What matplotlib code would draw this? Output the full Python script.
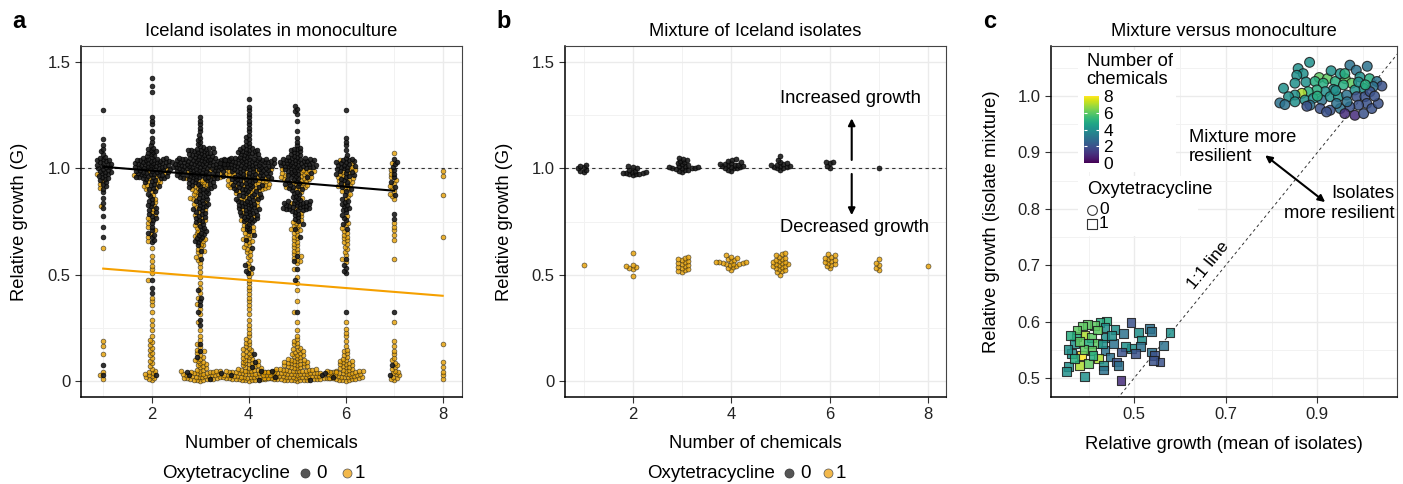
import numpy as np
import matplotlib
matplotlib.use('Agg')
import matplotlib.pyplot as plt
from matplotlib.patches import Rectangle
from matplotlib.lines import Line2D
from matplotlib.colors import Normalize
from matplotlib.cm import ScalarMappable

plt.rcParams['font.family'] = ['Liberation Sans', 'DejaVu Sans']

W, H = 1403, 484
FS = 13.2

# ---- panel a: monoculture, counts per 0.05 bin of relative growth (bin 0 = 0-0.05) ----
BIN = 0.05
chem = [1, 2, 3, 4, 5, 6, 7, 8]
mono_g0 = [
    [1, 1, 0, 0, 0, 0, 0, 0, 0, 0, 0, 0, 0, 1, 1, 1, 2, 2, 5, 12, 14, 4, 2, 0, 0, 1, 0, 0, 0],
    [1, 0, 0, 0, 0, 0, 0, 0, 2, 1, 0, 0, 0, 5, 3, 5, 6, 4, 8, 28, 35, 10, 3, 1, 3, 0, 0, 2, 1],
    [3, 0, 2, 1, 0, 2, 1, 3, 1, 0, 0, 1, 2, 8, 6, 8, 10, 10, 15, 40, 55, 25, 5, 3, 3, 0, 0, 0, 0],
    [5, 2, 1, 0, 0, 0, 0, 0, 0, 0, 4, 0, 1, 2, 6, 15, 18, 15, 20, 30, 50, 20, 6, 3, 3, 3, 1, 0, 0],
    [5, 0, 0, 0, 0, 0, 1, 0, 0, 1, 1, 2, 0, 1, 2, 6, 25, 8, 10, 15, 35, 12, 3, 1, 1, 4, 0, 0, 0],
    [0, 0, 0, 0, 0, 0, 1, 0, 0, 0, 4, 1, 0, 0, 2, 4, 8, 3, 6, 10, 15, 2, 3, 0, 0, 1, 0, 0, 0],
    [1, 1, 0, 0, 0, 0, 1, 0, 0, 0, 0, 0, 0, 0, 0, 2, 0, 1, 2, 3, 4, 0, 0, 0, 0, 0, 0, 0, 0],
    [0] * 29,
]
mono_g1 = [
    [3, 0, 1, 2, 0, 0, 0, 0, 0, 0, 0, 0, 1, 0, 0, 0, 1, 0, 3, 1, 0, 0],
    [10, 4, 4, 4, 2, 2, 1, 3, 0, 1, 3, 2, 1, 3, 3, 4, 3, 3, 8, 6, 0, 0],
    [35, 10, 6, 3, 2, 1, 2, 2, 2, 2, 2, 4, 6, 4, 4, 4, 4, 6, 10, 8, 0, 0],
    [50, 15, 10, 6, 3, 2, 2, 3, 3, 3, 3, 4, 6, 8, 5, 3, 3, 10, 20, 12, 0, 0],
    [70, 25, 12, 6, 2, 1, 1, 1, 1, 2, 1, 6, 6, 6, 8, 3, 2, 2, 12, 15, 0, 0],
    [35, 14, 6, 2, 3, 1, 0, 0, 0, 0, 0, 3, 4, 6, 4, 1, 0, 4, 8, 8, 3, 0],
    [9, 5, 3, 2, 0, 1, 0, 0, 0, 0, 0, 1, 0, 2, 3, 0, 0, 4, 4, 3, 1, 1],
    [3, 2, 0, 1, 0, 0, 0, 0, 0, 0, 0, 0, 0, 1, 0, 0, 0, 1, 0, 2, 0, 0],
]
fit_x_g0 = [1, 7]
fit_y_g0 = [1.008, 0.895]
fit_x_g1 = [1, 8]
fit_y_g1 = [0.528, 0.400]

# ---- panel b: mixture values ----
mix_g0 = [
    [0.985, 0.99, 0.995, 1.0, 1.005, 1.01, 1.015],
    [0.97, 0.972, 0.975, 0.975, 0.978, 0.98, 0.98, 0.982, 0.985, 0.99, 0.995, 1.0, 1.005, 1.01],
    [0.985, 0.99, 0.992, 0.995, 0.997, 1.0, 1.0, 1.0, 1.002, 1.005, 1.005, 1.01, 1.012,
     1.015, 1.02, 1.025, 1.03, 1.035, 1.04, 1.045, 1.05],
    [0.99, 0.995, 1.0, 1.0, 1.003, 1.005, 1.008, 1.01, 1.012, 1.015, 1.015, 1.018, 1.02,
     1.022, 1.025, 1.03, 1.035, 1.04, 1.045],
    [0.995, 1.0, 1.003, 1.005, 1.008, 1.01, 1.012, 1.015, 1.018, 1.02, 1.025, 1.03, 1.04, 1.06],
    [1.0, 1.01, 1.028, 1.03, 1.032],
    [1.0],
    [],
]
mix_g1 = [
    [0.545],
    [0.495, 0.525, 0.53, 0.535, 0.54, 0.545, 0.60],
    [0.51, 0.515, 0.52, 0.525, 0.53, 0.535, 0.54, 0.545, 0.55, 0.555, 0.56, 0.565, 0.57,
     0.575, 0.58, 0.585],
    [0.52, 0.53, 0.535, 0.54, 0.545, 0.55, 0.55, 0.552, 0.555, 0.555, 0.557, 0.56, 0.56,
     0.565, 0.57, 0.575, 0.58, 0.585, 0.59],
    [0.50, 0.51, 0.515, 0.52, 0.525, 0.53, 0.535, 0.54, 0.54, 0.545, 0.55, 0.55, 0.555,
     0.56, 0.56, 0.565, 0.57, 0.575, 0.58, 0.585, 0.59, 0.595, 0.60],
    [0.53, 0.54, 0.545, 0.55, 0.555, 0.56, 0.565, 0.57, 0.575, 0.58, 0.585, 0.59, 0.595],
    [0.52, 0.53, 0.545, 0.555, 0.575],
    [0.54],
]

# ---- panel c: mixture vs mean of isolates ----
c0_x = [0.883, 0.971, 1.009, 0.985, 0.858, 0.869, 0.855, 0.875, 0.851, 0.826, 0.904, 0.922,
        0.895, 0.913, 0.939, 0.961, 0.975, 0.993, 1.014, 1.030, 1.041, 1.022, 1.001, 0.982,
        0.957, 0.935, 0.917, 0.899, 0.880, 0.866, 0.851, 0.837, 0.818, 0.829, 0.851, 0.873,
        0.891, 0.910, 0.928, 0.946, 0.964, 0.986, 1.004, 1.015, 1.008, 0.990, 0.971, 0.950,
        0.928, 0.906, 0.884, 0.920, 0.960, 0.982, 1.001, 1.019, 1.033, 0.942, 0.877, 0.950,
        0.930, 0.990, 1.005, 0.965, 0.900, 0.940, 1.025, 0.960]
c0_y = [1.060, 1.055, 1.053, 1.046, 1.049, 1.040, 1.037, 1.025, 1.023, 1.014, 1.033, 1.031,
        1.026, 1.023, 1.026, 1.031, 1.023, 1.034, 1.031, 1.026, 1.018, 1.017, 1.014, 1.011,
        1.020, 1.012, 1.008, 1.011, 1.008, 1.005, 1.002, 0.999, 0.988, 0.985, 0.990, 0.993,
        0.996, 0.993, 0.999, 0.999, 1.002, 0.999, 0.999, 1.008, 0.987, 0.984, 0.981, 0.978,
        0.975, 0.978, 0.984, 0.972, 0.969, 0.966, 0.969, 0.978, 0.987, 0.987, 0.982, 1.040,
        1.045, 1.025, 1.020, 0.990, 1.000, 1.010, 1.000, 1.040]
c0_n = [4, 3, 3, 3, 4, 4, 4, 4, 4, 4, 6, 6, 5, 5, 5, 6, 6, 4, 5, 3, 2, 3, 4, 4,
        5, 4, 4, 5, 5, 7, 4, 4, 3, 3, 4, 4, 4, 3, 4, 4, 3, 2, 2, 2, 2, 2, 2, 3,
        2, 2, 3, 2, 1, 1, 2, 2, 2, 3, 2, 4, 4, 4, 5, 3, 5, 4, 2, 5]
c1_x = [0.493, 0.440, 0.425, 0.413, 0.398, 0.386, 0.436, 0.458, 0.476, 0.509, 0.534, 0.538,
        0.578, 0.515, 0.391, 0.374, 0.407, 0.436, 0.454, 0.420, 0.400, 0.370, 0.563, 0.513,
        0.494, 0.481, 0.472, 0.502, 0.436, 0.407, 0.385, 0.363, 0.421, 0.447, 0.461, 0.432,
        0.381, 0.356, 0.538, 0.545, 0.556, 0.542, 0.352, 0.392, 0.432, 0.471, 0.465, 0.370,
        0.400, 0.390, 0.380, 0.410, 0.430, 0.450, 0.355, 0.375, 0.360, 0.420]
c1_y = [0.598, 0.601, 0.598, 0.593, 0.595, 0.592, 0.590, 0.586, 0.579, 0.580, 0.588, 0.582,
        0.580, 0.567, 0.576, 0.573, 0.572, 0.572, 0.561, 0.561, 0.561, 0.561, 0.558, 0.555,
        0.552, 0.555, 0.546, 0.543, 0.549, 0.549, 0.540, 0.543, 0.534, 0.537, 0.528, 0.522,
        0.522, 0.520, 0.546, 0.540, 0.528, 0.531, 0.511, 0.502, 0.514, 0.495, 0.522, 0.534,
        0.525, 0.550, 0.565, 0.540, 0.560, 0.575, 0.550, 0.585, 0.575, 0.585]
c1_n = [2, 5, 5, 6, 6, 6, 4, 4, 3, 4, 3, 3, 4, 4, 7, 5, 6, 4, 3, 6, 5, 4, 3, 3,
        4, 4, 2, 2, 3, 6, 8, 4, 7, 3, 2, 4, 7, 4, 3, 2, 2, 2, 4, 4, 3, 1, 3, 5,
        6, 6, 6, 5, 4, 4, 4, 6, 5, 6]

BLACK = '#1c1c1c'
ORANGE = '#E69F00'


def px_axes(l, t, r, b):
    return fig.add_axes([l / W, 1 - b / H, (r - l) / W, (b - t) / H])


def expand(counts):
    ys = []
    for k, n in enumerate(counts):
        if n:
            ys.extend(k * BIN + (np.arange(n) + 0.5) / n * BIN)
    return np.array(ys)


def swarm(ax, xc, ys, d=3.3):
    ys = np.asarray(ys, dtype=float)
    if len(ys) == 0:
        return ys
    ypx = ax.transData.transform(np.column_stack([np.full(len(ys), xc), ys]))[:, 1]
    xs = np.zeros(len(ys))
    done_x, done_y = [], []
    for i in np.argsort(ypx, kind='stable'):
        y = ypx[i]
        dx_arr = np.array(done_x)
        dy_arr = np.array(done_y)
        if len(dy_arr):
            m = np.abs(dy_arr - y) < d
            nx, ny = dx_arr[m], dy_arr[m]
        else:
            nx, ny = dx_arr, dy_arr
        cands = [0.0]
        for a, b in zip(nx, ny):
            w = np.sqrt(d * d - (b - y) ** 2)
            cands += [a - w, a + w]
        cands.sort(key=abs)
        for c in cands:
            if len(nx) == 0 or np.all((c - nx) ** 2 + (y - ny) ** 2 >= d * d - 1e-6):
                xs[i] = c
                break
        done_x.append(xs[i])
        done_y.append(y)
    ppu = ax.transData.transform((1, 0))[0] - ax.transData.transform((0, 0))[0]
    return xc + xs / ppu


def style(ax, xmaj, xmin, ymaj, ymin, xlab, ylab):
    ax.set_xticks(xmaj)
    ax.set_xticks(xmin, minor=True)
    ax.set_yticks(ymaj)
    ax.set_yticks(ymin, minor=True)
    ax.grid(which='major', color='#EBEBEB', lw=1.0)
    ax.grid(which='minor', color='#F2F2F2', lw=0.7)
    ax.set_axisbelow(True)
    ax.tick_params(which='minor', length=0)
    ax.tick_params(which='major', length=4, width=0.8, color='#333333',
                   labelsize=12, labelcolor='#222222', pad=3.5)
    for s in ['top', 'right']:
        ax.spines[s].set_linewidth(0.8)
        ax.spines[s].set_color('#444444')
    for s in ['left', 'bottom']:
        ax.spines[s].set_linewidth(1.1)
        ax.spines[s].set_color('black')
    ax.set_xlabel(xlab, fontsize=FS)
    ax.set_ylabel(ylab, fontsize=FS)


def oxy_legend(x0, xc0, xl0, xc1, xl1):
    y = 1 - 473 / H
    fig.text(x0 / W, y, 'Oxytetracycline', fontsize=13.5, va='center', ha='left')
    fig.add_artist(Line2D([xc0 / W], [y], marker='o', ms=6.5, color='#555555',
                          mec='#333333', mew=0.5, transform=fig.transFigure))
    fig.text(xl0 / W, y, '0', fontsize=13.5, va='center', ha='left')
    fig.add_artist(Line2D([xc1 / W], [y], marker='o', ms=6.5, color='#F2B84B',
                          mec='#555555', mew=0.5, transform=fig.transFigure))
    fig.text(xl1 / W, y, '1', fontsize=13.5, va='center', ha='left')


fig = plt.figure(figsize=(W / 100, H / 100), dpi=100)

# ---------------- panel a ----------------
ax_a = px_axes(81, 46, 462, 397)
ax_a.set_xlim(0.542, 8.398)
ax_a.set_ylim(-0.077, 1.577)
style(ax_a, [2, 4, 6, 8], [1, 3, 5, 7], [0, 0.5, 1.0, 1.5], [0.25, 0.75, 1.25],
      'Number of chemicals', 'Relative growth (G)')
ax_a.set_yticklabels(['0', '0.5', '1.0', '1.5'])
ax_a.axhline(1.0, ls=(0, (3, 3)), lw=0.8, color='#333333', zorder=1)
for xc, g0, g1 in zip(chem, mono_g0, mono_g1):
    y0, y1 = expand(g0), expand(g1)
    xs = swarm(ax_a, xc, np.concatenate([y0, y1]))
    ax_a.scatter(xs[len(y0):], y1, s=12, c=ORANGE, edgecolors='#222222', linewidths=0.45,
                 alpha=0.8, zorder=2)
    ax_a.scatter(xs[:len(y0)], y0, s=12, c=BLACK, edgecolors='black', linewidths=0.45,
                 alpha=0.9, zorder=2.1)
ax_a.plot(fit_x_g0, fit_y_g0, color='black', lw=1.5, zorder=3)
ax_a.plot(fit_x_g1, fit_y_g1, color='#F5A000', lw=1.5, zorder=3)
ax_a.xaxis.set_label_coords(0.5, -0.108)
ax_a.yaxis.set_label_coords(-0.139, 0.5)

# ---------------- panel b ----------------
ax_b = px_axes(565, 46, 946, 397)
ax_b.set_xlim(0.624, 8.366)
ax_b.set_ylim(-0.077, 1.577)
style(ax_b, [2, 4, 6, 8], [1, 3, 5, 7], [0, 0.5, 1.0, 1.5], [0.25, 0.75, 1.25],
      'Number of chemicals', 'Relative growth (G)')
ax_b.set_yticklabels(['0', '0.5', '1.0', '1.5'])
ax_b.axhline(1.0, ls=(0, (3, 3)), lw=0.8, color='#333333', zorder=1)
for xc, g0, g1 in zip(chem, mix_g0, mix_g1):
    xs0 = swarm(ax_b, xc, g0, d=3.4)
    xs1 = swarm(ax_b, xc, g1, d=3.6)
    ax_b.scatter(xs0, g0, s=13, c=BLACK, edgecolors='black', linewidths=0.45,
                 alpha=0.9, zorder=2)
    ax_b.scatter(xs1, g1, s=13, c=ORANGE, edgecolors='#222222', linewidths=0.45,
                 alpha=0.8, zorder=2)
arrow = dict(arrowstyle='-|>', lw=1.5, color='black', mutation_scale=10, shrinkA=0, shrinkB=0)
ax_b.annotate('', xy=(6.45, 1.236), xytext=(6.45, 1.04), arrowprops=arrow)
ax_b.annotate('', xy=(6.45, 0.78), xytext=(6.45, 0.974), arrowprops=arrow)
ax_b.text(6.42, 1.33, 'Increased growth', fontsize=FS, ha='center', va='center')
ax_b.text(6.5, 0.722, 'Decreased growth', fontsize=FS, ha='center', va='center')
ax_b.xaxis.set_label_coords(0.5, -0.108)
ax_b.yaxis.set_label_coords(-0.136, 0.5)

# ---------------- panel c ----------------
ax_c = px_axes(1051, 46, 1397, 397)
ax_c.set_xlim(0.318, 1.074)
ax_c.set_ylim(0.466, 1.089)
style(ax_c, [0.5, 0.7, 0.9], [0.4, 0.6, 0.8, 1.0], [0.5, 0.6, 0.7, 0.8, 0.9, 1.0],
      [0.55, 0.65, 0.75, 0.85, 0.95, 1.05],
      'Relative growth (mean of isolates)', 'Relative growth (isolate mixture)')
ax_c.set_xticklabels(['0.5', '0.7', '0.9'])
ax_c.set_yticklabels(['0.5', '0.6', '0.7', '0.8', '0.9', '1.0'])
ax_c.plot([0.3, 1.1], [0.3, 1.1], ls=(0, (3, 3)), lw=0.7, color='#333333', zorder=1)
norm = Normalize(0, 8)
ax_c.scatter(c0_x, c0_y, s=50, c=c0_n, cmap='viridis', norm=norm, marker='o',
             edgecolors='#1a1a1a', linewidths=0.8, alpha=0.85, zorder=2)
ax_c.scatter(c1_x, c1_y, s=40, c=c1_n, cmap='viridis', norm=norm, marker='s',
             edgecolors='#1a1a1a', linewidths=0.8, alpha=0.85, zorder=2)
ax_c.text(0.662, 0.70, '1:1 line', fontsize=12.5, rotation=45, ha='center', va='center',
          rotation_mode='anchor', transform_rotates_text=True)
ax_c.annotate('', xy=(0.786, 0.895), xytext=(0.917, 0.812),
              arrowprops=dict(arrowstyle='<|-|>', lw=1.5, color='black', mutation_scale=10,
                              shrinkA=0, shrinkB=0))
ax_c.text(0.619, 0.927, 'Mixture more', fontsize=FS, ha='left', va='center')
ax_c.text(0.619, 0.892, 'resilient', fontsize=FS, ha='left', va='center')
ax_c.text(1.068, 0.827, 'Isolates', fontsize=FS, ha='right', va='center')
ax_c.text(1.068, 0.792, 'more resilient', fontsize=FS, ha='right', va='center')
ax_c.xaxis.set_label_coords(0.5, -0.111)
ax_c.yaxis.set_label_coords(-0.147, 0.5)


def cpx(x, y):
    return ((x - 1051) / 346, (397 - y) / 351)


for (l, t, r, b) in [(1078, 50, 1176, 172), (1078, 176, 1198, 236)]:
    x0, y0 = cpx(l, b)
    x1, y1 = cpx(r, t)
    ax_c.add_patch(Rectangle((x0, y0), x1 - x0, y1 - y0, transform=ax_c.transAxes,
                             facecolor='white', edgecolor='none', zorder=1.5))
for txt, (x, y) in [('Number of', (1086.7, 62)), ('chemicals', (1086.7, 80)),
                    ('Oxytetracycline', (1086.7, 190))]:
    ax_c.text(*cpx(x, y), txt, fontsize=FS, ha='left', va='center',
              transform=ax_c.transAxes, zorder=4)
for mk, ms, lab, y in [('o', 7, '0', 210), ('s', 6.5, '1', 224)]:
    ax_c.plot(*cpx(1091.7, y), marker=mk, ms=ms, mfc='white', mec='#333333', mew=0.8,
              transform=ax_c.transAxes, zorder=4, clip_on=False)
    ax_c.text(*cpx(1099, y), lab, fontsize=12.5, ha='left', va='center',
              transform=ax_c.transAxes, zorder=4)

cax = px_axes(1084, 96, 1099, 163)
cb = fig.colorbar(ScalarMappable(norm=norm, cmap='viridis'), cax=cax, ticks=[0, 2, 4, 6, 8])
cb.outline.set_visible(False)
cax.tick_params(length=0, labelsize=12.5, pad=3)
cax.hlines([2, 4, 6], 0, 0.2, color='white', lw=0.8)
cax.hlines([2, 4, 6], 0.8, 1.0, color='white', lw=0.8)

# ---------------- legends, labels, titles ----------------
oxy_legend(162, 305, 316, 347, 355)
oxy_legend(646.7, 789, 800, 828, 836)
for lab, x in [('a', 12), ('b', 496), ('c', 983)]:
    fig.text(x / W, 1 - 22 / H, lab, fontsize=17, fontweight='bold', va='center', ha='left')
for title, x in [('Iceland isolates in monoculture', 271.5),
                 ('Mixture of Iceland isolates', 755.5),
                 ('Mixture versus monoculture', 1224)]:
    fig.text(x / W, 1 - 31 / H, title, fontsize=FS, ha='center', va='center')

fig.savefig('out.png', dpi=100)
